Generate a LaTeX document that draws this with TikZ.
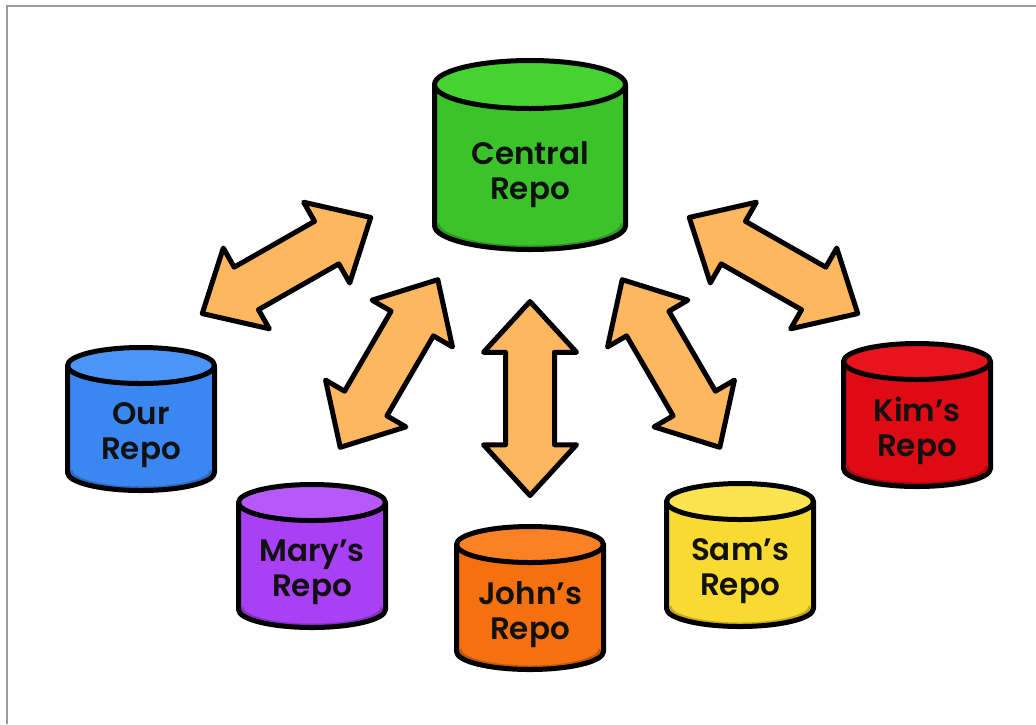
\documentclass[tikz,border=0pt]{standalone}
\usepackage{fontspec}
\setsansfont{Poppins}[BoldFont={Poppins SemiBold}]
\usetikzlibrary{shapes.arrows}
\definecolor{framegrey}{HTML}{9B9B9B}
\definecolor{inkblack}{HTML}{111111}
\definecolor{arrowfill}{HTML}{FDB75F}
\definecolor{greentop}{HTML}{46D332}
\definecolor{greenbody}{HTML}{3CC22B}
\definecolor{bluetop}{HTML}{4B95F7}
\definecolor{bluebody}{HTML}{3A87F2}
\definecolor{purpletop}{HTML}{B759FA}
\definecolor{purplebody}{HTML}{A940F5}
\definecolor{orangetop}{HTML}{FA8126}
\definecolor{orangebody}{HTML}{F5700E}
\definecolor{yellowtop}{HTML}{FBE44F}
\definecolor{yellowbody}{HTML}{F8DA30}
\definecolor{redtop}{HTML}{E8141C}
\definecolor{redbody}{HTML}{DE0A14}
\tikzset{
  rim/.style     ={draw=black, line width=2.5pt, line join=round},
  repotext/.style={font=\sffamily\bfseries\fontsize{15.5}{17.5}\selectfont,
                   align=center, text=inkblack, inner sep=0pt},
  twoway/.style={
    double arrow, draw=black, fill=arrowfill, line width=2.5pt, line join=round,
    inner sep=0pt, inner ysep=11pt, minimum height=97pt,
    double arrow head extend=11pt, double arrow tip angle=85,
  },
}

\begin{document}
\begin{tikzpicture}[x=0.5pt, y=-0.5pt]
\useasboundingbox (0,0) rectangle (1036,724);
\draw[framegrey, line width=1pt] (7,724) -- (7,6) -- (1036,6);

% ------------------------------------------------------------- repositories
% \rx, \ry: cap radii; \hh: half the distance between the two cap centres
\foreach \nm/\px/\py/\rx/\ry/\hh/\dy/\top/\body/\txt in {
    central/530/155/95.5/24/70.5/20/greentop/greenbody/{Central\\Repo},
    our/141/419/73.5/18/53.5/16/bluetop/bluebody/{Our\\Repo},
    mary/312/556/73.5/18/53.5/16/purpletop/purplebody/{Mary’s\\Repo},
    john/530/598/73.5/18/53.5/17/orangetop/orangebody/{John’s\\Repo},
    sam/740/555/73.5/18/53.5/16/yellowtop/yellowbody/{Sam’s\\Repo},
    kim/917/415/73.5/18/53.5/16/redtop/redbody/{Kim’s\\Repo}} {
  \fill[\body] (\px-\rx,\py-\hh) -- (\px-\rx,\py+\hh)
    arc [start angle=180, end angle=0, x radius=\rx, y radius=\ry]
    -- (\px+\rx,\py-\hh) -- cycle;
  \draw[\body!78!black, line width=2pt]
    (\px-\rx+3,\py+\hh-2) arc [start angle=180, end angle=0,
                               x radius=\rx-3, y radius=\ry];
  \fill[\top] (\px,\py-\hh) ellipse [x radius=\rx, y radius=\ry];
  \draw[rim] (\px-\rx,\py-\hh) -- (\px-\rx,\py+\hh)
    arc [start angle=180, end angle=0, x radius=\rx, y radius=\ry]
    -- (\px+\rx,\py-\hh);
  \draw[rim] (\px,\py-\hh) ellipse [x radius=\rx, y radius=\ry];
  \node[repotext] (\nm) at (\px,\py+\dy) {\txt};
}

% ------------------------------------------------------------- push / pull
\foreach \nm/\px/\py/\ang in {
    our/286.5/265.5/29.7,
    mary/389/363.5/59.8,
    john/530/398.5/90,
    sam/671/363.5/-59.8,
    kim/773.5/265.5/-29.7} {
  \node[twoway, rotate=\ang] (sync-\nm) at (\px,\py) {};
}

\end{tikzpicture}
\end{document}
